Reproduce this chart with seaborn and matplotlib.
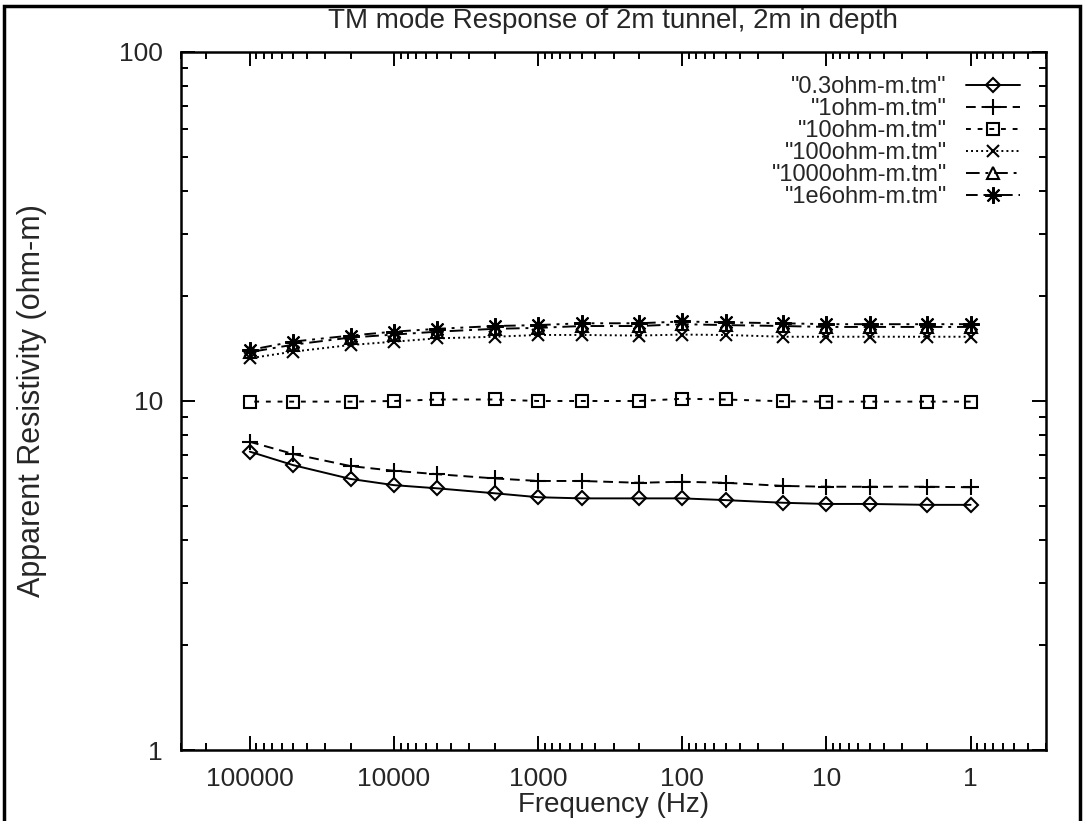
import matplotlib
matplotlib.use("Agg")
import matplotlib.pyplot as plt
import matplotlib.ticker as mticker
from matplotlib.patches import Rectangle
import seaborn as sns
import pandas as pd

# ---- data ----
freq = [100000, 50000, 20000, 10000, 5000, 2000, 1000, 500,
        200, 100, 50, 20, 10, 5, 2, 1]
labels = ['"0.3ohm-m.tm"', '"1ohm-m.tm"', '"10ohm-m.tm"',
          '"100ohm-m.tm"', '"1000ohm-m.tm"', '"1e6ohm-m.tm"']
r_03 = [7.16, 6.55, 5.98, 5.74, 5.62, 5.44, 5.30, 5.26,
        5.26, 5.26, 5.20, 5.11, 5.07, 5.07, 5.04, 5.04]
r_1 = [7.64, 7.05, 6.51, 6.31, 6.17, 6.00, 5.90, 5.90,
       5.83, 5.87, 5.83, 5.71, 5.68, 5.68, 5.68, 5.66]
r_10 = [9.96, 9.96, 9.96, 10.0, 10.1, 10.1, 10.0, 10.0,
        10.0, 10.15, 10.1, 9.98, 9.96, 9.96, 9.96, 9.96]
r_100 = [13.26, 13.85, 14.47, 14.79, 15.12, 15.28, 15.46, 15.46,
         15.40, 15.50, 15.46, 15.28, 15.28, 15.28, 15.28, 15.28]
r_1000 = [13.8, 14.5, 15.2, 15.5, 15.8, 16.1, 16.2, 16.4,
          16.4, 16.6, 16.5, 16.4, 16.3, 16.3, 16.3, 16.3]
r_1e6 = [14.0, 14.8, 15.4, 15.8, 16.1, 16.4, 16.5, 16.7,
         16.7, 16.9, 16.8, 16.7, 16.6, 16.6, 16.6, 16.6]
series = [r_03, r_1, r_10, r_100, r_1000, r_1e6]

xtick_vals = [100000, 10000, 1000, 100, 10, 1]
xtick_labels = ["100000", "10000", "1000", "100", "10", "1"]
ytick_vals = [1, 10, 100]
ytick_labels = ["1", "10", "100"]

title = "TM mode Response of 2m tunnel, 2m in depth"
xlabel = "Frequency (Hz)"
ylabel = "Apparent Resistivity (ohm-m)"

# ---- style ----
sns.set_style("ticks")
plt.rcParams["font.family"] = ["Liberation Sans", "DejaVu Sans"]
plt.rcParams["axes.linewidth"] = 1.8

styles = [
    dict(marker="D", ms=7, ls="-", mfc="none"),
    dict(marker="+", ms=12, ls=(0, (5, 3))),
    dict(marker="s", ms=8, ls=(0, (2.5, 3.5)), mfc="none"),
    dict(marker="x", ms=9, ls=(0, (1, 1.6))),
    dict(marker="^", ms=8, ls=(0, (7, 3, 1.5, 3)), mfc="none"),
    dict(marker=(8, 2, 0), ms=12, ls=(0, (6, 3, 1.5, 3, 1.5, 3))),
]

fig = plt.figure(figsize=(10.84, 8.21), dpi=100)
ax = fig.add_axes([181 / 1084, 1 - 750 / 821, (1046 - 181) / 1084, (750 - 52) / 821])

for vals, lab, st in zip(series, labels, styles):
    df = pd.DataFrame({"freq": freq, "rho": vals})
    sns.lineplot(data=df, x="freq", y="rho", ax=ax, color="black",
                 linewidth=1.4, marker=st["marker"], markersize=st["ms"],
                 markerfacecolor=st.get("mfc", "black"), markeredgecolor="black",
                 markeredgewidth=1.5, linestyle=st["ls"], label=lab)

ax.set_xscale("log")
ax.set_yscale("log")
ax.set_xlim(300000, 0.3)
ax.set_ylim(1, 100)
ax.xaxis.set_major_locator(mticker.FixedLocator(xtick_vals))
ax.xaxis.set_major_formatter(mticker.FixedFormatter(xtick_labels))
ax.yaxis.set_major_locator(mticker.FixedLocator(ytick_vals))
ax.yaxis.set_major_formatter(mticker.FixedFormatter(ytick_labels))
ax.xaxis.set_minor_locator(mticker.LogLocator(base=10, subs=range(2, 10), numticks=20))
ax.yaxis.set_minor_locator(mticker.LogLocator(base=10, subs=range(2, 10), numticks=20))
ax.xaxis.set_minor_formatter(mticker.NullFormatter())
ax.yaxis.set_minor_formatter(mticker.NullFormatter())
ax.tick_params(which="both", direction="in", top=True, right=True,
               labelsize=19, color="black", width=1.4)
ax.tick_params(which="major", length=10)
ax.tick_params(axis="x", which="major", pad=12)
ax.tick_params(axis="y", which="major", pad=13)
ax.tick_params(which="minor", length=5)
for sp in ax.spines.values():
    sp.set_color("black")

ax.set_xlabel(xlabel, fontsize=20, labelpad=1)
ax.set_ylabel(ylabel, fontsize=22, labelpad=52)
fig.text(613 / 1084, 1 - 21 / 821, title, fontsize=20, ha="center", va="center")

leg = ax.legend(loc="upper right", frameon=False, markerfirst=False,
                fontsize=17, handlelength=2.3, labelspacing=0.0,
                handletextpad=0.8, borderpad=0, borderaxespad=0,
                bbox_to_anchor=(0.970, 0.965))

fig.patches.append(Rectangle((0.004, -0.05), 0.992, 1.043, transform=fig.transFigure,
                             fill=False, edgecolor="black", linewidth=2.5))

fig.savefig("out.png", dpi=100)
